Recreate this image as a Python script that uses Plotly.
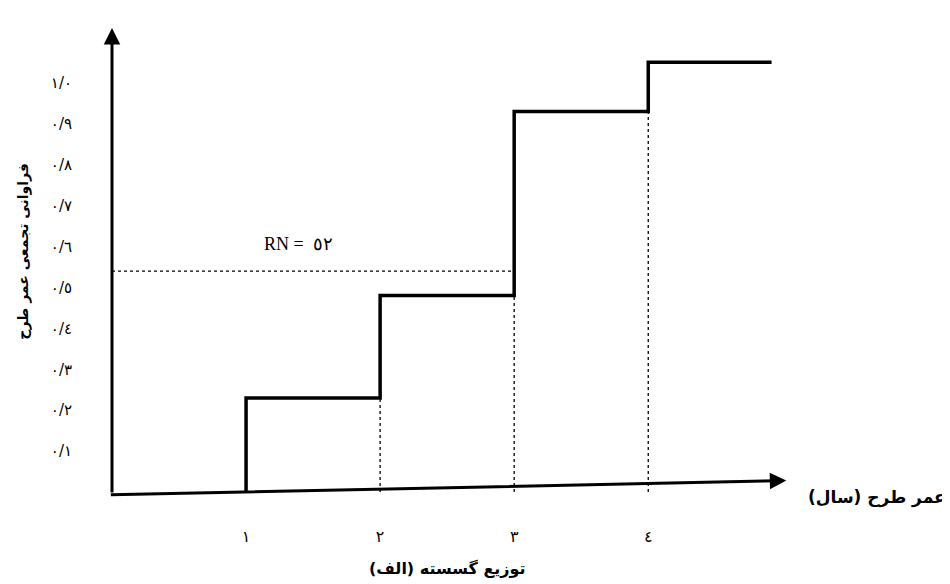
import plotly.graph_objects as go

# ---- data ----
years = [1, 2, 3, 4]
cum_freq = [0.23, 0.48, 0.93, 1.05]
step_end_x = 4.92
rn_value = 0.54
rn_label = "RN =  ٥٢"
ytick_vals = [0.1, 0.2, 0.3, 0.4, 0.5, 0.6, 0.7, 0.8, 0.9, 1.0]
ytick_text = ["٠/١", "٠/٢", "٠/٣", "٠/٤", "٠/٥", "٠/٦", "٠/٧", "٠/٨", "٠/٩", "١/٠"]
xtick_text = ["١", "٢", "٣", "٤"]
y_title = "فراوانی تجمعی عمر طرح"
x_title = "عمر طرح (سال)"
caption = "توزیع گسسته (الف)"

RLM = "\u200F"
AR_FONT = "DejaVu Sans"

fig = go.Figure()

# step (cumulative) line
sx = [years[0]] + years + [step_end_x]
sy = [0] + cum_freq + [cum_freq[-1]]
fig.add_trace(go.Scatter(x=sx, y=sy, mode="lines", line=dict(color="black", width=3.5, shape="hv"),
                         hoverinfo="skip", showlegend=False))

# dotted verticals from the axis to the previous step level
for i in range(1, len(years)):
    fig.add_trace(go.Scatter(x=[years[i], years[i]], y=[0, cum_freq[i - 1]], mode="lines",
                             line=dict(color="black", width=1.3, dash="dot"),
                             hoverinfo="skip", showlegend=False))

# RN dotted horizontal up to the step it hits
hit = next(i for i, c in enumerate(cum_freq) if c >= rn_value)
fig.add_trace(go.Scatter(x=[0, years[hit]], y=[rn_value, rn_value], mode="lines",
                         line=dict(color="black", width=1.3, dash="dot"),
                         hoverinfo="skip", showlegend=False))

ann = []
# axes with arrows
ann.append(dict(x=0, y=1.134, ax=0, ay=-0.005, xref="x", yref="y", axref="x", ayref="y",
                showarrow=True, arrowhead=2, arrowsize=1.1, arrowwidth=3, arrowcolor="black", text=""))
ann.append(dict(x=5.03, y=0.028, ax=-0.02, ay=-0.007, xref="x", yref="y", axref="x", ayref="y",
                showarrow=True, arrowhead=2, arrowsize=1.1, arrowwidth=3, arrowcolor="black", text=""))
# RN label
ann.append(dict(x=1.39, y=0.606, xref="x", yref="y", text=rn_label, showarrow=False,
                xanchor="center", yanchor="middle",
                font=dict(family="Liberation Serif", size=18, color="black")))
# y title
ann.append(dict(x=-0.13, y=0.52, xref="paper", yref="paper", text="<b>" + y_title + "</b>", textangle=-90,
                xanchor="center", yanchor="middle",
                showarrow=False, font=dict(family=AR_FONT, size=14, color="black")))
# x title
ann.append(dict(x=1.13, y=-0.012, xref="paper", yref="paper", text="<b>" + RLM + x_title + RLM + "</b>",
                xanchor="center", yanchor="middle",
                showarrow=False, font=dict(family=AR_FONT, size=17, color="black")))
# caption
ann.append(dict(x=0.496, y=-0.165, xref="paper", yref="paper", text="<b>" + RLM + caption + RLM + "</b>",
                xanchor="center", yanchor="middle",
                showarrow=False, font=dict(family=AR_FONT, size=16, color="black")))

fig.update_layout(
    width=950, height=584,
    margin=dict(l=104, r=169, t=20, b=100),
    paper_bgcolor="white", plot_bgcolor="white",
    showlegend=False,
    annotations=ann,
    xaxis=dict(range=[0, 5.05], showgrid=False, zeroline=False, showline=False,
               tickmode="array", tickvals=years, ticktext=xtick_text,
               ticks="outside", ticklen=30, tickcolor="rgba(0,0,0,0)",
               tickfont=dict(family=AR_FONT, size=16, color="black"), fixedrange=True),
    yaxis=dict(range=[0, 1.134], showgrid=False, zeroline=False, showline=False,
               tickmode="array", tickvals=ytick_vals, ticktext=ytick_text,
               ticks="outside", ticklen=36, tickcolor="rgba(0,0,0,0)",
               tickfont=dict(family=AR_FONT, size=15, color="black"), fixedrange=True),
)

fig.write_html("out.html")
